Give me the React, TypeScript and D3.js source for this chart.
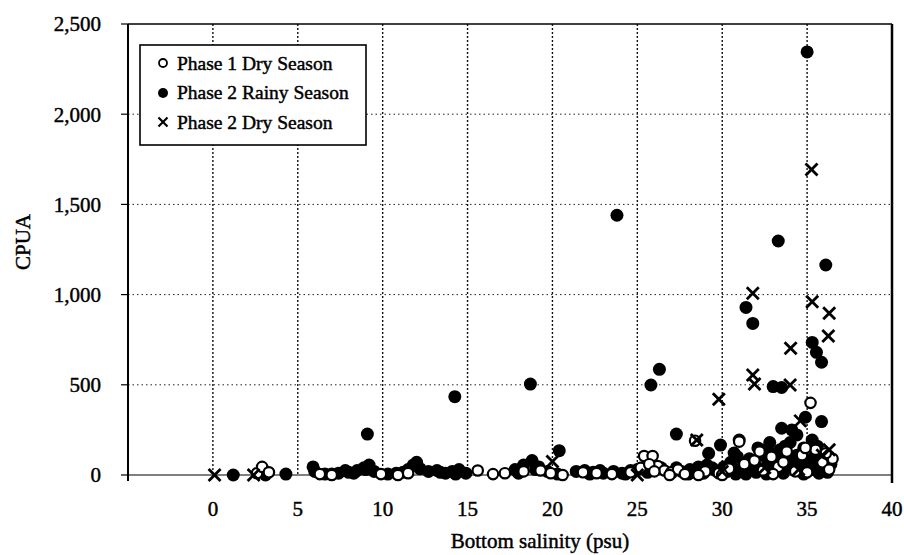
import React from "react";
import * as d3 from "d3";

// Bottom salinity (psu), CPUA
const phase1Dry: [number, number][] = [
  [2.6, 10], [2.9, 45], [3.3, 15], [6.3, 5], [7.0, 0], [9.9, 5], [10.9, 0], [11.5, 10],
  [15.6, 25], [16.5, 5], [17.2, 10], [18.3, 20], [19.3, 25], [19.9, 10], [20.6, 0],
  [21.8, 15], [22.6, 10], [23.5, 5], [24.6, 15], [25.2, 40], [25.4, 105], [25.9, 105],
  [26.2, 50], [26.6, 25], [27.0, 15], [27.4, 30], [27.8, 5], [28.4, 190], [29.0, 20],
  [29.8, 10], [30.4, 35], [31.0, 185], [31.3, 60], [31.9, 80], [32.4, 25], [32.9, 100],
  [33.3, 45], [33.8, 130], [34.3, 20], [34.7, 110], [35.2, 400], [35.5, 140], [35.9, 70],
  [36.3, 30], [36.5, 90], [35.0, 15], [33.0, 5], [30.0, 0], [28.6, 0], [26.9, 0],
  [25.7, 60], [26.0, 20], [32.2, 130], [34.9, 150], [36.1, 120], [33.6, 70],
];

const phase2Rainy: [number, number][] = [
  [23.8, 1440], [35.0, 2345], [33.3, 1297], [36.1, 1164], [31.4, 929], [31.8, 840],
  [35.3, 735], [35.55, 680], [35.85, 625], [26.3, 586], [25.8, 499], [33.0, 490],
  [33.5, 485], [18.7, 504], [14.25, 434], [9.1, 227], [20.4, 135], [27.3, 227],
  [29.2, 120], [29.9, 166], [31.0, 194], [30.7, 122], [32.5, 139], [33.5, 259],
  [34.4, 222], [35.85, 296], [35.3, 194], [34.1, 250], [34.9, 320],
  [1.2, 0], [3.1, 0], [4.3, 5], [5.9, 45], [6.6, 5], [7.4, 10], [8.0, 15], [8.5, 25],
  [8.9, 40], [9.2, 55], [9.5, 20], [10.3, 5], [11.2, 15], [11.8, 55], [12.2, 35],
  [12.7, 20], [13.2, 25], [13.7, 10], [14.1, 20], [14.5, 30], [14.9, 10], [17.8, 30],
  [18.3, 55], [18.8, 80], [19.2, 45], [19.7, 20], [20.3, 5], [21.4, 20], [21.9, 25],
  [22.4, 15], [23.0, 10], [23.6, 20], [24.1, 10], [24.6, 25], [25.0, 30], [25.6, 15],
  [26.4, 40], [27.0, 10], [27.6, 20], [28.1, 30], [28.6, 45], [29.1, 55], [29.6, 25],
  [30.1, 45], [30.5, 70], [31.1, 35], [31.6, 90], [32.0, 15], [32.3, 110], [32.7, 70],
  [33.1, 50], [33.4, 140], [33.8, 95], [34.2, 40], [34.6, 20], [35.0, 60], [35.4, 100],
  [35.8, 45], [36.2, 15], [36.4, 60], [33.6, 10], [31.4, 5], [29.9, 10], [28.0, 5],
  [34.8, 5], [32.8, 180], [34.0, 180], [35.6, 160],
  [6.0, 20], [7.0, 5], [7.8, 25], [8.3, 10], [9.0, 30], [10.8, 10], [11.5, 30], [12.0, 70],
  [13.4, 15], [14.3, 5], [18.0, 10], [19.0, 30], [22.2, 5], [22.8, 25], [24.3, 5],
  [27.3, 40], [28.4, 15], [28.9, 10], [29.4, 40], [30.3, 20], [30.8, 5], [31.3, 60],
  [31.9, 45], [32.5, 30], [32.9, 120], [33.2, 90], [33.7, 160], [34.0, 70], [34.4, 110],
  [34.8, 150], [35.2, 30], [35.5, 80], [35.9, 110], [36.3, 100], [32.1, 150], [33.0, 20],
  [34.5, 60], [35.7, 10], [36.0, 60], [30.9, 100], [32.6, 5],
];

const phase2Dry: [number, number][] = [
  [0.1, 0], [2.4, 0], [20.0, 75], [25.0, 0], [28.5, 194], [29.8, 420], [31.8, 554],
  [31.9, 505], [31.8, 1007], [34.0, 499], [34.03, 702], [34.6, 300], [35.26, 1694],
  [35.3, 961], [36.3, 896], [36.25, 770], [36.3, 140], [32.5, 40], [30.0, 20],
  [34.5, 30], [35.9, 110],
];

const xTicks = [0, 5, 10, 15, 20, 25, 30, 35, 40];
const yTicks = [0, 500, 1000, 1500, 2000, 2500];
const legendLabels = ["Phase 1 Dry Season", "Phase 2 Rainy Season", "Phase 2 Dry Season"];

const FONT = "'Liberation Serif', 'Times New Roman', serif";

export default function App() {
  const W = 904, H = 555;
  const left = 128, right = 892, top = 24, bottom = 475;
  const x = d3.scaleLinear().domain([-5, 40]).range([left, right]);
  const y = d3.scaleLinear().domain([0, 2500]).range([bottom, top]);
  const fmt = d3.format(",");
  const textProps = { fontFamily: FONT, fill: "#000", stroke: "#000", strokeWidth: 0.45 };

  const cross = (cx: number, cy: number, s: number, sw: number, key?: any) => (
    <g key={key}>
      <line x1={cx - s} y1={cy - s} x2={cx + s} y2={cy + s} stroke="#000" strokeWidth={sw} />
      <line x1={cx - s} y1={cy + s} x2={cx + s} y2={cy - s} stroke="#000" strokeWidth={sw} />
    </g>
  );

  return (
    <svg width={W} height={H} style={{ position: "absolute", left: 0, top: 0, background: "#fff" }}>
      <rect x={0} y={0} width={W} height={H} fill="#fff" />
      {yTicks.filter((t) => t > 0 && t < 2500).map((t) => (
        <line key={"hy" + t} x1={left} x2={right} y1={y(t)} y2={y(t)} stroke="#222" strokeWidth={1} strokeDasharray="1.5,3" />
      ))}
      {xTicks.filter((t) => t < 40).map((t) => (
        <line key={"vx" + t} x1={x(t)} x2={x(t)} y1={top} y2={bottom} stroke="#111" strokeWidth={1.4} strokeDasharray="2,2" />
      ))}
      <line x1={left} x2={right} y1={top} y2={top} stroke="#000" strokeWidth={1.5} />
      <line x1={right} x2={right} y1={top} y2={bottom + 8} stroke="#000" strokeWidth={2.5} />
      <line x1={left} x2={left} y1={top} y2={bottom + 6} stroke="#000" strokeWidth={2} />
      <line x1={left} x2={right} y1={bottom} y2={bottom} stroke="#000" strokeWidth={1.2} />
      {yTicks.map((t) => (
        <g key={"yt" + t}>
          <line x1={left - 7} x2={left} y1={y(t)} y2={y(t)} stroke="#000" strokeWidth={1.2} />
          <text x={101} y={y(t)} dy="0.35em" textAnchor="end" fontSize={21} {...textProps}>
            {fmt(t)}
          </text>
        </g>
      ))}
      {xTicks.map((t) => (
        <text key={"xt" + t} x={x(t)} y={516} textAnchor="middle" fontSize={21} {...textProps}>
          {t}
        </text>
      ))}
      <text x={540} y={548} textAnchor="middle" fontSize={21} {...textProps}>
        Bottom salinity (psu)
      </text>
      <text transform={`translate(30,242) rotate(-90)`} textAnchor="middle" fontSize={21} {...textProps}>
        CPUA
      </text>

      {phase2Rainy.map((d, i) => (
        <circle key={"r" + i} cx={x(d[0])} cy={y(d[1])} r={6.5} fill="#000" />
      ))}
      {phase1Dry.map((d, i) => (
        <circle key={"p" + i} cx={x(d[0])} cy={y(d[1])} r={5.2} fill="#fff" stroke="#000" strokeWidth={2.2} />
      ))}
      {phase2Dry.map((d, i) => cross(x(d[0]), y(d[1]), 6, 2.8, "d" + i))}

      <rect x={140} y={45} width={226} height={100} fill="#fff" stroke="#000" strokeWidth={1.6} />
      <circle cx={163} cy={63} r={4} fill="#fff" stroke="#000" strokeWidth={1.8} />
      <circle cx={163} cy={93} r={5} fill="#000" />
      {cross(163, 122, 4.5, 2.2, "lg")}
      {legendLabels.map((l, i) => (
        <text key={"l" + i} x={177} y={63 + i * 29.5} dy="0.35em" fontSize={19.5} {...textProps}>
          {l}
        </text>
      ))}
    </svg>
  );
}
